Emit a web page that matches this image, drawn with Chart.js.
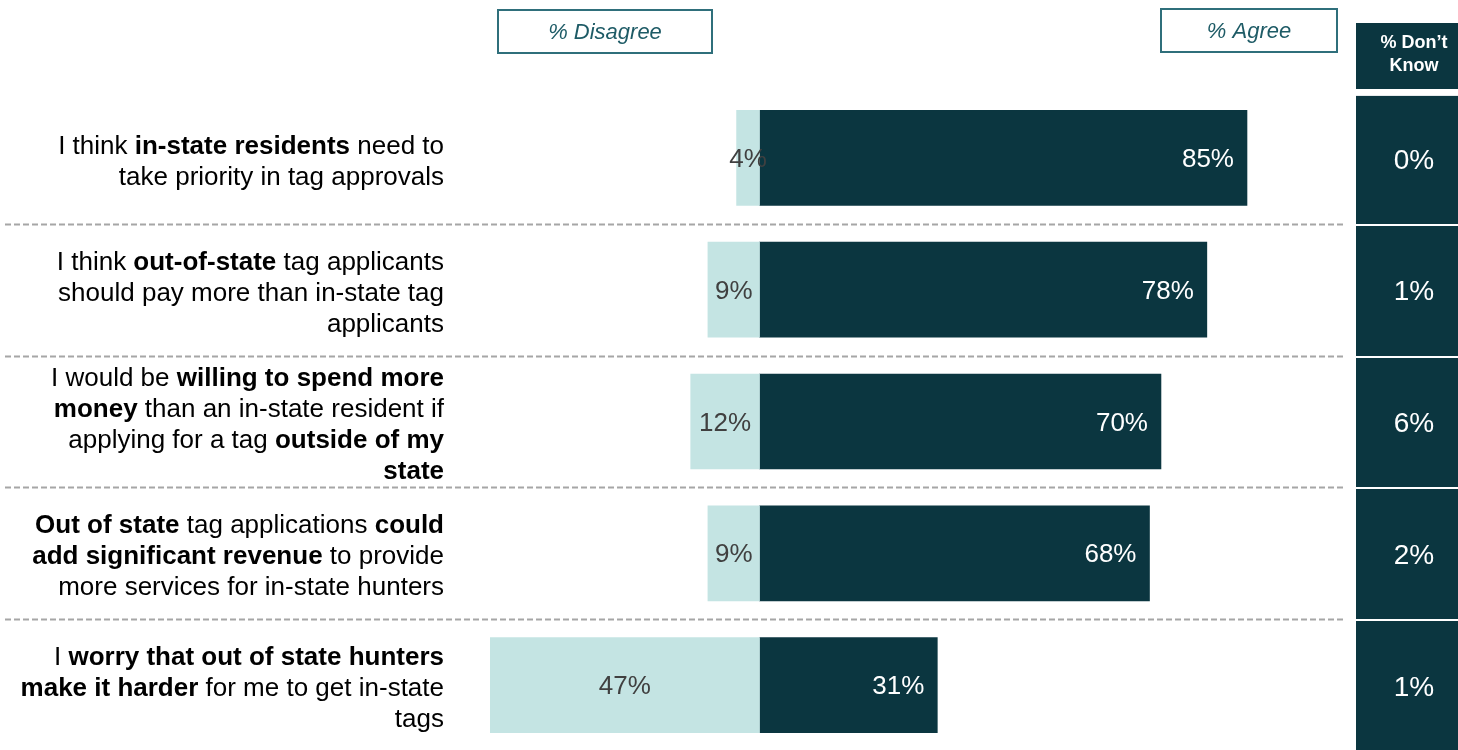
<!DOCTYPE html>
<html>
<head>
<meta charset="utf-8">
<title>Out-of-state tag attitudes</title>
<script src="https://cdn.jsdelivr.net/npm/chart.js@4.4.1/dist/chart.umd.min.js"></script>
<style>
  html, body { margin: 0; padding: 0; background: #ffffff; overflow: hidden; }
  #wrap { position: relative; width: 1458px; height: 770px; }
</style>
</head>
<body>
<div id="wrap"><canvas id="chart"></canvas></div>
<script>
// Statements, one entry per line; **text** marks bold runs
const statementLines = [
  ["I think **in-state residents** need to", "take priority in tag approvals"],
  ["I think **out-of-state** tag applicants", "should pay more than in-state tag", "applicants"],
  ["I would be **willing to spend more**", "**money** than an in-state resident if", "applying for a tag **outside of my**", "**state**"],
  ["**Out of state** tag applications **could**", "**add significant revenue** to provide", "more services for in-state hunters"],
  ["I **worry that out of state hunters**", "**make it harder** for me to get in-state", "tags"]
];
const categories = ["in-state priority", "out-of-state pay more", "willing to spend more", "significant revenue", "harder to get tags"];

const disagreePct = [4, 9, 12, 9, 47];
const agreePct = [85, 78, 70, 68, 31];
const dontKnowPct = [0, 1, 6, 2, 1];

const headerDisagree = "% Disagree";
const headerAgree = "% Agree";
const headerDontKnow = ["% Don\u2019t", "Know"];

const DARK = "#0b3640";
const LIGHT = "#c4e4e3";
const FRAME = "#2f6f7b";
const FONT = "'Liberation Sans', Arial, sans-serif";

function parseRuns(line) {
  const parts = line.split("**");
  return parts.map((t, i) => ({ text: t, bold: i % 2 === 1 })).filter(r => r.text.length);
}

const overlay = {
  id: 'overlay',
  afterDatasetsDraw(chart) {
    const ctx = chart.ctx;
    const xs = chart.scales.x;
    const ys = chart.scales.y;
    const n = categories.length;
    const step = ys.getPixelForValue(1) - ys.getPixelForValue(0);
    ctx.save();

    // dashed row separators
    ctx.strokeStyle = "#a6a6a6";
    ctx.lineWidth = 2;
    ctx.setLineDash([6, 3]);
    for (let i = 0; i < n - 1; i++) {
      const y = Math.round(ys.getPixelForValue(i) + step / 2) + 0.5;
      ctx.beginPath();
      ctx.moveTo(5, y);
      ctx.lineTo(1346, y);
      ctx.stroke();
    }
    ctx.setLineDash([]);

    // statement text, right aligned with bold runs
    ctx.textBaseline = "middle";
    ctx.fillStyle = "#000000";
    const lh = 31;
    statementLines.forEach((lines, i) => {
      const yc = ys.getPixelForValue(i) + 4;
      lines.forEach((line, k) => {
        const y = yc + (k - (lines.length - 1) / 2) * lh;
        const runs = parseRuns(line);
        let total = 0;
        runs.forEach(r => {
          ctx.font = (r.bold ? "bold " : "") + "26px " + FONT;
          r.w = ctx.measureText(r.text).width;
          total += r.w;
        });
        let x = 444 - total;
        ctx.textAlign = "left";
        runs.forEach(r => {
          ctx.font = (r.bold ? "bold " : "") + "26px " + FONT;
          ctx.fillText(r.text, x, y);
          x += r.w;
        });
      });
    });

    // value labels on the bars
    ctx.font = "26px " + FONT;
    for (let i = 0; i < n; i++) {
      const yc = ys.getPixelForValue(i) + 2;
      const x0 = xs.getPixelForValue(0);
      const xd = xs.getPixelForValue(-disagreePct[i]);
      ctx.fillStyle = "#404040";
      ctx.textAlign = "center";
      ctx.fillText(disagreePct[i] + "%", (x0 + xd) / 2, yc);
      const xa = xs.getPixelForValue(agreePct[i]);
      ctx.fillStyle = "#ffffff";
      ctx.textAlign = "right";
      ctx.fillText(agreePct[i] + "%", xa - 13, yc);
    }

    // "% Don't Know" column
    ctx.fillStyle = DARK;
    ctx.fillRect(1356, 23, 110, 66);
    ctx.fillStyle = "#ffffff";
    ctx.font = "bold 18px " + FONT;
    ctx.textAlign = "center";
    ctx.fillText(headerDontKnow[0], 1414, 43);
    ctx.fillText(headerDontKnow[1], 1414, 66);
    for (let i = 0; i < n; i++) {
      const yc = ys.getPixelForValue(i);
      const top = i === 0 ? yc - 62 : Math.round(yc - step / 2) + 2;
      const bottom = i === n - 1 ? 780 : Math.round(yc + step / 2);
      ctx.fillStyle = DARK;
      ctx.fillRect(1356, top, 110, bottom - top);
      ctx.fillStyle = "#ffffff";
      ctx.font = "28px " + FONT;
      ctx.fillText(dontKnowPct[i] + "%", 1414, yc + 3);
    }

    // header frames
    ctx.strokeStyle = FRAME;
    ctx.lineWidth = 2;
    ctx.strokeRect(498, 10, 214, 43);
    ctx.strokeRect(1161, 9, 176, 43);
    ctx.fillStyle = "#1e5b66";
    ctx.font = "italic 22px " + FONT;
    ctx.fillText(headerDisagree, 605, 33);
    ctx.fillText(headerAgree, 1249, 32);

    ctx.restore();
  }
};

new Chart(document.getElementById('chart'), {
  type: 'bar',
  data: {
    labels: categories,
    datasets: [
      {
        label: "Disagree",
        data: disagreePct.map(v => -v),
        backgroundColor: LIGHT,
        borderWidth: 0,
        barThickness: 95
      },
      {
        label: "Agree",
        data: agreePct,
        backgroundColor: DARK,
        borderWidth: 0,
        barThickness: 95
      }
    ]
  },
  options: {
    indexAxis: 'y',
    responsive: true,
    maintainAspectRatio: false,
    animation: false,
    layout: { padding: { left: 490, right: 125, top: 92, bottom: 19 } },
    scales: {
      x: { stacked: true, min: -47, max: 100, display: false, grid: { display: false } },
      y: { stacked: true, display: false, grid: { display: false } }
    },
    plugins: {
      legend: { display: false },
      tooltip: { enabled: false }
    }
  },
  plugins: [overlay]
});
</script>
</body>
</html>
